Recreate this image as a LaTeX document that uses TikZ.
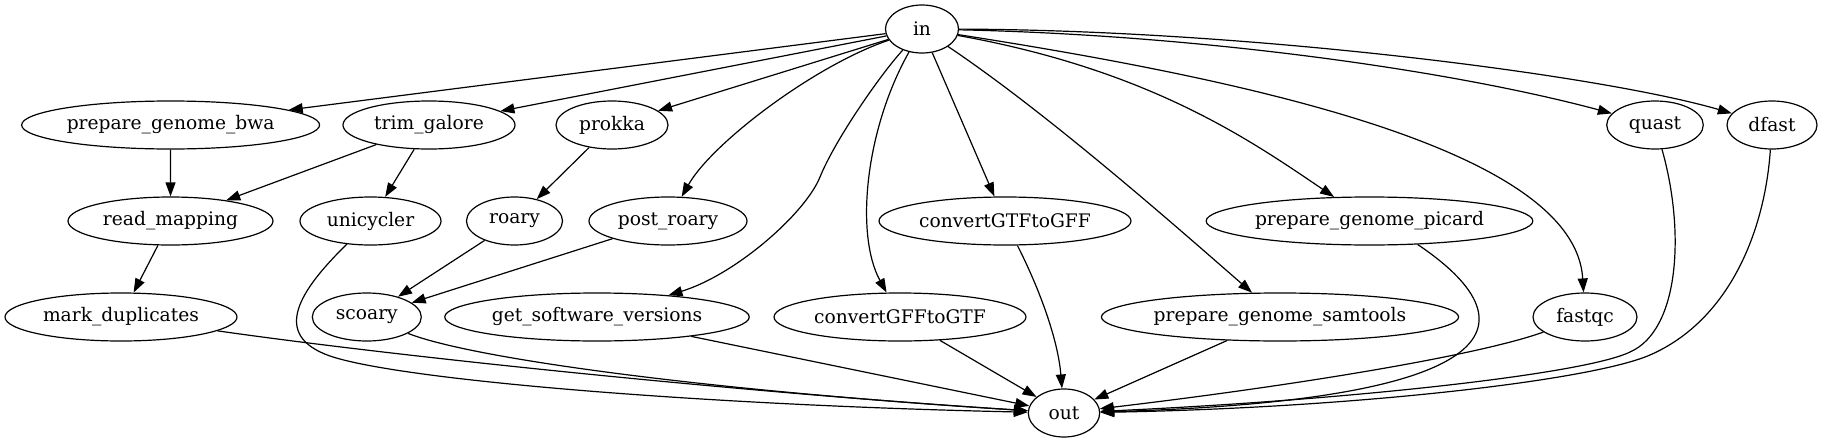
\documentclass[tikz,border=0pt]{standalone}
\usepackage{fontspec}
\setmainfont{DejaVu Serif}
\usetikzlibrary{shapes.geometric,arrows.meta}
\begin{document}
\begin{tikzpicture}[x=0.75pt,y=-0.75pt,
  gnode/.style={draw, ellipse, minimum height=36pt, inner sep=0pt, line width=0.9pt, font=\fontsize{14}{16}\selectfont},
  arr/.style={-{Triangle[length=10.5pt,width=7.5pt]}, line width=0.9pt}]
\useasboundingbox (0,0) rectangle (1825,443);
% rank 0
\node[gnode, minimum width=54.75pt] (in) at (922,29) {in};
% rank 1
\node[gnode, minimum width=223.5pt] (bwa) at (170.6,125) {prepare\_genome\_bwa};
\node[gnode, minimum width=129pt] (trim) at (429,125) {trim\_galore};
\node[gnode, minimum width=84pt] (prokka) at (612,125) {prokka};
\node[gnode, minimum width=72.4pt] (quast) at (1655,125) {quast};
\node[gnode, minimum width=67.5pt] (dfast) at (1772,125) {dfast};
% rank 2
\node[gnode, minimum width=153.75pt] (readmap) at (170.5,221) {read\_mapping};
\node[gnode, minimum width=105.75pt] (unicycler) at (370.5,221) {unicycler};
\node[gnode, minimum width=72pt] (roary) at (514.5,221) {roary};
\node[gnode, minimum width=118.5pt] (postroary) at (668,221) {post\_roary};
\node[gnode, minimum width=189pt] (gtfgff) at (1005,221) {convertGTFtoGFF};
\node[gnode, minimum width=245pt] (picard) at (1369.5,221) {prepare\_genome\_picard};
% rank 3
\node[gnode, minimum width=174pt] (markdup) at (121,317) {mark\_duplicates};
\node[gnode, minimum width=81.75pt] (scoary) at (366.8,317) {scoary};
\node[gnode, minimum width=228.4pt] (gsv) at (597,317) {get\_software\_versions};
\node[gnode, minimum width=189pt] (gffgtf) at (900,317) {convertGFFtoGTF};
\node[gnode, minimum width=267pt] (samtools) at (1280,317) {prepare\_genome\_samtools};
\node[gnode, minimum width=78pt] (fastqc) at (1585,317) {fastqc};
% rank 4
\node[gnode, minimum width=53.5pt] (out) at (1064,413) {out};

% edges from in
\draw[arr] (in) -- (bwa);
\draw[arr] (in) -- (trim);
\draw[arr] (in) -- (prokka);
\draw[arr] (in) .. controls (815,65) and (712,143) .. (postroary);
\draw[arr] (in) .. controls (880,75) and (835,140) .. (820,177) .. controls (805,214) and (735,275) .. (gsv);
\draw[arr] (in) .. controls (865,130) and (855,235) .. (gffgtf);
\draw[arr] (in) -- (gtfgff);
\draw[arr] (in) .. controls (1050,115) and (1180,230) .. (samtools);
\draw[arr] (in) .. controls (1150,70) and (1250,140) .. (picard);
\draw[arr] (in) .. controls (1250,80) and (1575,150) .. (fastqc);
\draw[arr] (in) .. controls (1200,35) and (1450,70) .. (quast);
\draw[arr] (in) .. controls (1250,30) and (1600,75) .. (dfast);

% middle edges
\draw[arr] (bwa) -- (readmap);
\draw[arr] (trim) -- (readmap);
\draw[arr] (trim) -- (unicycler);
\draw[arr] (prokka) -- (roary);
\draw[arr] (readmap) -- (markdup);
\draw[arr] (roary) -- (scoary);
\draw[arr] (postroary) -- (scoary);

% edges to out
\draw[arr] (unicycler) .. controls (300,290) and (270,335) .. (330,356) .. controls (400,380) and (700,405) .. (out);
\draw[arr] (markdup) .. controls (400,357) and (750,393) .. (out);
\draw[arr] (scoary) .. controls (470,358) and (700,390) .. (out);
\draw[arr] (gsv) -- (out);
\draw[arr] (gffgtf) -- (out);
\draw[arr] (gtfgff) .. controls (1040,290) and (1058,340) .. (out);
\draw[arr] (samtools) -- (out);
\draw[arr] (picard.-26) .. controls (1530,320) and (1520,400) .. (out);
\draw[arr] (fastqc) .. controls (1480,355) and (1300,385) .. (out);
\draw[arr] (quast) .. controls (1685,230) and (1680,330) .. (1630,352) .. controls (1585,374) and (1350,400) .. (out);
\draw[arr] (dfast) .. controls (1765,230) and (1730,320) .. (1650,355) .. controls (1590,381) and (1350,408) .. (out);
\end{tikzpicture}
\end{document}
